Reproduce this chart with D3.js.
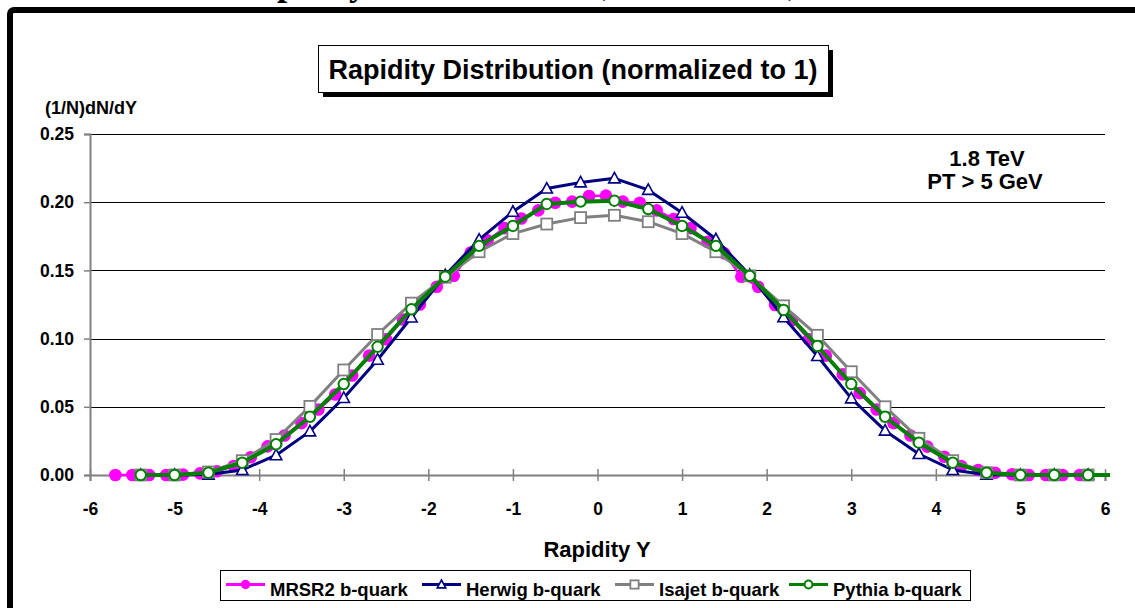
<!DOCTYPE html>
<html>
<head>
<meta charset="utf-8">
<script src="https://cdn.jsdelivr.net/npm/d3@7"></script>
<style>
  body { margin: 0; background: #fff; }
  svg { display: block; }
  text { font-family: Arial, "Liberation Sans", sans-serif; font-weight: bold; fill: #000; }
</style>
</head>
<body>
<svg id="chart" width="1135" height="608"></svg>
<script>
// ---- data -------------------------------------------------------------
var mrsrX = [-5.7, -5.5, -5.3, -5.1, -4.9, -4.7, -4.5, -4.3, -4.1, -3.9, -3.7, -3.5, -3.3, -3.1, -2.9,
  -2.7, -2.5, -2.3, -2.1, -1.9, -1.7, -1.5, -1.3, -1.1, -0.9, -0.7, -0.5, -0.3, -0.1,
  0.1, 0.3, 0.5, 0.7, 0.9, 1.1, 1.3, 1.5, 1.7, 1.9, 2.1, 2.3, 2.5, 2.7, 2.9,
  3.1, 3.3, 3.5, 3.7, 3.9, 4.1, 4.3, 4.5, 4.7, 4.9, 5.1, 5.3, 5.5, 5.7];
var mrsrY = [0, 0, 0, 0, 0.0003, 0.0012, 0.0028, 0.0066, 0.013, 0.021, 0.029, 0.038, 0.048, 0.059, 0.073,
  0.0875, 0.0995, 0.114, 0.125, 0.138, 0.146, 0.163, 0.172, 0.181, 0.188, 0.194, 0.1996, 0.2004, 0.2045,
  0.2048, 0.2004, 0.1996, 0.194, 0.1877, 0.181, 0.171, 0.1625, 0.1454, 0.138, 0.1246, 0.1136, 0.0995, 0.0875, 0.0738,
  0.06, 0.048, 0.038, 0.029, 0.0208, 0.0134, 0.0066, 0.0037, 0.0017, 0.0005, 0, 0, 0, 0];

var mcX = [-5.4, -5.0, -4.6, -4.2, -3.8, -3.4, -3.0, -2.6, -2.2, -1.8, -1.4, -1.0, -0.6, -0.2,
  0.2, 0.6, 1.0, 1.4, 1.8, 2.2, 2.6, 3.0, 3.4, 3.8, 4.2, 4.6, 5.0, 5.4, 5.8];
var herwigY = [0, 0, 0.0003, 0.0037, 0.0145, 0.032, 0.0565, 0.0845, 0.1155, 0.1465, 0.1725, 0.193, 0.21, 0.2145,
  0.2175, 0.209, 0.1923, 0.1728, 0.1466, 0.1156, 0.0872, 0.0562, 0.0325, 0.0154, 0.0037, 0.0002, 0, 0, 0];
var isajetY = [0, 0, 0.0022, 0.0105, 0.026, 0.0503, 0.077, 0.103, 0.126, 0.145, 0.1637, 0.177, 0.184, 0.1887,
  0.1904, 0.1857, 0.177, 0.1637, 0.146, 0.124, 0.1024, 0.0757, 0.05, 0.0269, 0.0105, 0.0017, 0, 0, 0];
var pythiaX = mcX.concat([6.2]);
var pythiaY = [0, 0, 0.0017, 0.009, 0.0225, 0.0427, 0.0667, 0.094, 0.1215, 0.1454, 0.168, 0.1826, 0.1987, 0.2004,
  0.2011, 0.195, 0.1826, 0.168, 0.146, 0.121, 0.0946, 0.0667, 0.0427, 0.0237, 0.009, 0.0017, 0, 0, 0, 0];

var xTicks = [-6, -5, -4, -3, -2, -1, 0, 1, 2, 3, 4, 5, 6];
var yTicks = [0, 0.05, 0.10, 0.15, 0.20, 0.25];
var seriesNames = ["MRSR2 b-quark", "Herwig b-quark", "Isajet b-quark", "Pythia b-quark"];

// ---- setup ------------------------------------------------------------
var svg = d3.select("#chart");
var x = d3.scaleLinear().domain([-6, 6]).range([90, 1105]);
var y = d3.scaleLinear().domain([0, 0.25]).range([475, 134]);

// heading of the page, mostly cut off above the picture
svg.append("text").attr("x", 233).attr("y", -5)
  .style("font-family", "'Liberation Serif', 'Times New Roman', serif").style("font-size", "36px")
  .text("Rapidity Distribution");
svg.append("text").attr("x", 596).attr("y", -5)
  .style("font-family", "'Liberation Serif', 'Times New Roman', serif").style("font-size", "29px")
  .style("font-weight", "normal").text("(normalized to 1)");

// outer chart frame
svg.append("rect").attr("x", 10).attr("y", 10).attr("width", 1140).attr("height", 620)
  .attr("rx", 4).attr("fill", "none").attr("stroke", "#000").attr("stroke-width", 6);

// title box with shadow
svg.append("rect").attr("x", 323).attr("y", 50).attr("width", 510).attr("height", 47).attr("fill", "#000");
svg.append("rect").attr("x", 318.5).attr("y", 45.5).attr("width", 510).attr("height", 47)
  .attr("fill", "#fff").attr("stroke", "#000").attr("stroke-width", 1);
svg.append("text").attr("x", 573).attr("y", 79).attr("text-anchor", "middle")
  .style("font-size", "27px").text("Rapidity Distribution (normalized to 1)");

// gridlines
svg.append("g").selectAll("line").data(yTicks.filter(function(d){ return d > 0; })).enter()
  .append("line")
  .attr("x1", x(-6)).attr("x2", x(6))
  .attr("y1", function(d){ return Math.round(y(d)) + 0.5; })
  .attr("y2", function(d){ return Math.round(y(d)) + 0.5; })
  .attr("stroke", "#000").attr("stroke-width", 1);

// y axis
var gy = svg.append("g").attr("transform", "translate(" + x(-6) + ",0)")
  .call(d3.axisLeft(y).tickValues(yTicks).tickFormat(d3.format(".2f")).tickSize(6).tickPadding(10));
gy.select(".domain").attr("stroke", "#808080").attr("stroke-width", 2);
gy.selectAll(".tick line").attr("stroke", "#808080").attr("stroke-width", 1.5);
gy.selectAll(".tick text").style("font-size", "17.5px").style("font-family", "Arial, 'Liberation Sans', sans-serif");

// x axis at y = 0
var gx = svg.append("g").attr("transform", "translate(0," + y(0) + ")")
  .call(d3.axisBottom(x).tickValues(xTicks).tickFormat(function(d){ return String(d); }).tickSize(6).tickPadding(22));
gx.select(".domain").attr("stroke", "#808080").attr("stroke-width", 2);
gx.selectAll(".tick line").attr("y1", -6).attr("stroke", "#808080").attr("stroke-width", 1.5);
gx.selectAll(".tick text").style("font-size", "17.5px").style("font-family", "Arial, 'Liberation Sans', sans-serif");

// axis titles
svg.append("text").attr("x", 45).attr("y", 114).style("font-size", "18px").text("(1/N)dN/dY");
svg.append("text").attr("x", 597).attr("y", 557).attr("text-anchor", "middle")
  .style("font-size", "22px").text("Rapidity Y");

// annotation
svg.append("text").attr("x", 987).attr("y", 166).attr("text-anchor", "middle")
  .style("font-size", "22px").text("1.8 TeV");
svg.append("text").attr("x", 985).attr("y", 189).attr("text-anchor", "middle")
  .style("font-size", "22px").text("PT > 5 GeV");

// ---- series -----------------------------------------------------------
svg.append("clipPath").attr("id", "plotclip").append("rect")
  .attr("x", 80).attr("y", 120).attr("width", 1030).attr("height", 370);
var plot = svg.append("g").attr("clip-path", "url(#plotclip)");

function pts(xs, ys) { return xs.map(function(v, i){ return [v, ys[i]]; }); }
var line = d3.line().x(function(d){ return x(d[0]); }).y(function(d){ return y(d[1]); });

var series = [
  { name: seriesNames[0], data: pts(mrsrX, mrsrY), color: "#ff00ff", width: 2.5, marker: "dot" },
  { name: seriesNames[1], data: pts(mcX, herwigY), color: "#000080", width: 3, marker: "triangle" },
  { name: seriesNames[2], data: pts(mcX, isajetY), color: "#808080", width: 3, marker: "square" },
  { name: seriesNames[3], data: pts(pythiaX, pythiaY), color: "#008000", width: 4, marker: "circle" }
];

function drawMarker(g, type, color, s) {
  // s = scale factor (1 for plot, smaller for legend)
  if (type === "dot") {
    g.append("circle").attr("r", 6.3 * s).attr("fill", color);
  } else if (type === "triangle") {
    var h = 6 * s;
    g.append("path").attr("d", "M0," + (-h) + "L" + (h * 0.95) + "," + (h * 0.75) + "L" + (-h * 0.95) + "," + (h * 0.75) + "Z")
      .attr("fill", "#fff").attr("stroke", color).attr("stroke-width", 1.6);
  } else if (type === "square") {
    var a = 5.5 * s;
    g.append("rect").attr("x", -a).attr("y", -a).attr("width", 2 * a).attr("height", 2 * a)
      .attr("fill", "#fff").attr("stroke", color).attr("stroke-width", 1.8);
  } else {
    g.append("circle").attr("r", 5.2 * s).attr("fill", "#fff").attr("stroke", color).attr("stroke-width", 2);
  }
}

series.forEach(function(s) {
  var g = plot.append("g");
  g.append("path").datum(s.data).attr("d", line)
    .attr("fill", "none").attr("stroke", s.color).attr("stroke-width", s.width).attr("stroke-linejoin", "round");
  g.selectAll("g.mk").data(s.data.filter(function(d){ return d[0] <= 6; })).enter()
    .append("g").classed("mk", true)
    .attr("transform", function(d){ return "translate(" + x(d[0]) + "," + y(d[1]) + ")"; })
    .each(function(){ drawMarker(d3.select(this), s.marker, s.color, 1); });
});

// ---- legend -----------------------------------------------------------
var legend = svg.append("g");
legend.append("rect").attr("x", 220.5).attr("y", 570.5).attr("width", 750).attr("height", 30)
  .attr("fill", "#fff").attr("stroke", "#000").attr("stroke-width", 1);
var legX = [226, 422, 615, 789];
series.forEach(function(s, i) {
  var g = legend.append("g").attr("transform", "translate(" + legX[i] + ",584.5)");
  g.append("line").attr("x1", 0).attr("x2", 39).attr("stroke", s.color).attr("stroke-width", 3);
  var m = g.append("g").attr("transform", "translate(19.5,0)");
  drawMarker(m, s.marker, s.color, 0.75);
  g.append("text").attr("x", 44).attr("y", 11).style("font-size", "18.5px").text(s.name);
});
</script>
</body>
</html>
